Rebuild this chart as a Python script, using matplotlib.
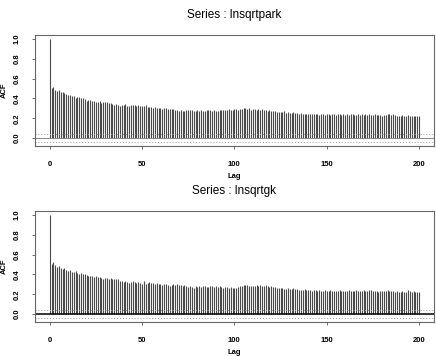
import matplotlib.pyplot as plt
import numpy as np

plt.rcParams['font.family'] = ['Liberation Sans', 'DejaVu Sans']

lags = list(range(0, 201))

# ACF values (lag 0 .. 200)
acf_park = [1.00,
    0.50, 0.51, 0.48, 0.47, 0.48, 0.46, 0.46, 0.45, 0.44, 0.43,
    0.43, 0.42, 0.42, 0.40, 0.41, 0.41, 0.40, 0.40, 0.39, 0.37,
    0.38, 0.38, 0.37, 0.37, 0.36, 0.36, 0.37, 0.35, 0.36, 0.36,
    0.36, 0.35, 0.35, 0.34, 0.33, 0.34, 0.33, 0.32, 0.33, 0.33,
    0.34, 0.32, 0.32, 0.33, 0.33, 0.33, 0.32, 0.33, 0.32, 0.32,
    0.32, 0.33, 0.31, 0.31, 0.31, 0.30, 0.31, 0.30, 0.30, 0.30,
    0.29, 0.30, 0.30, 0.29, 0.29, 0.29, 0.29, 0.28, 0.28, 0.27,
    0.28, 0.27, 0.27, 0.28, 0.28, 0.28, 0.28, 0.27, 0.27, 0.28,
    0.27, 0.28, 0.27, 0.27, 0.28, 0.28, 0.28, 0.27, 0.28, 0.27,
    0.27, 0.28, 0.28, 0.28, 0.28, 0.28, 0.29, 0.28, 0.28, 0.29,
    0.29, 0.28, 0.29, 0.29, 0.30, 0.30, 0.29, 0.30, 0.28, 0.29,
    0.29, 0.28, 0.29, 0.28, 0.29, 0.28, 0.28, 0.27, 0.28, 0.27,
    0.27, 0.27, 0.26, 0.26, 0.26, 0.26, 0.27, 0.25, 0.26, 0.25,
    0.25, 0.26, 0.25, 0.25, 0.24, 0.25, 0.24, 0.24, 0.24, 0.24,
    0.24, 0.24, 0.24, 0.24, 0.24, 0.23, 0.24, 0.24, 0.23, 0.24,
    0.24, 0.23, 0.24, 0.24, 0.23, 0.24, 0.24, 0.23, 0.24, 0.23,
    0.24, 0.23, 0.24, 0.24, 0.23, 0.23, 0.24, 0.23, 0.24, 0.23,
    0.24, 0.23, 0.24, 0.23, 0.23, 0.24, 0.23, 0.23, 0.23, 0.22,
    0.23, 0.23, 0.24, 0.24, 0.23, 0.24, 0.23, 0.22, 0.22, 0.22,
    0.23, 0.22, 0.22, 0.23, 0.22, 0.22, 0.22, 0.22, 0.22, 0.22]

acf_gk = [1.00,
    0.50, 0.52, 0.49, 0.47, 0.48, 0.46, 0.45, 0.46, 0.44, 0.43,
    0.44, 0.42, 0.42, 0.43, 0.41, 0.40, 0.41, 0.40, 0.40, 0.39,
    0.38, 0.38, 0.38, 0.37, 0.38, 0.37, 0.37, 0.36, 0.35, 0.36,
    0.36, 0.35, 0.36, 0.35, 0.35, 0.35, 0.35, 0.33, 0.33, 0.32,
    0.33, 0.32, 0.31, 0.32, 0.33, 0.32, 0.31, 0.32, 0.31, 0.30,
    0.33, 0.30, 0.31, 0.32, 0.31, 0.31, 0.30, 0.31, 0.30, 0.30,
    0.29, 0.30, 0.30, 0.29, 0.28, 0.29, 0.30, 0.29, 0.30, 0.29,
    0.29, 0.28, 0.29, 0.28, 0.27, 0.28, 0.27, 0.26, 0.28, 0.27,
    0.28, 0.27, 0.28, 0.28, 0.27, 0.27, 0.28, 0.28, 0.27, 0.28,
    0.27, 0.28, 0.27, 0.26, 0.27, 0.27, 0.26, 0.27, 0.26, 0.26,
    0.26, 0.27, 0.28, 0.28, 0.29, 0.29, 0.29, 0.28, 0.28, 0.28,
    0.28, 0.29, 0.28, 0.29, 0.28, 0.28, 0.29, 0.28, 0.27, 0.28,
    0.27, 0.27, 0.26, 0.26, 0.26, 0.26, 0.25, 0.25, 0.26, 0.25,
    0.25, 0.26, 0.25, 0.25, 0.24, 0.24, 0.24, 0.25, 0.24, 0.24,
    0.24, 0.23, 0.24, 0.24, 0.23, 0.24, 0.23, 0.23, 0.24, 0.23,
    0.23, 0.24, 0.23, 0.23, 0.23, 0.23, 0.24, 0.23, 0.23, 0.23,
    0.23, 0.24, 0.23, 0.23, 0.23, 0.24, 0.23, 0.23, 0.23, 0.24,
    0.23, 0.23, 0.24, 0.24, 0.23, 0.23, 0.23, 0.22, 0.23, 0.23,
    0.23, 0.23, 0.24, 0.23, 0.23, 0.23, 0.22, 0.23, 0.22, 0.22,
    0.23, 0.22, 0.22, 0.24, 0.23, 0.22, 0.23, 0.22, 0.22, 0.22]

titles = ["Series : lnsqrtpark", "Series : lnsqrtgk"]
conf_limits = (0.037, -0.036)
x_ticks = [0, 50, 100, 150, 200]
y_ticks = [0.0, 0.2, 0.4, 0.6, 0.8, 1.0]

fig = plt.figure(figsize=(4.36, 3.56), dpi=100)
boxes = [[0.080, 0.590, 0.915, 0.312], [0.080, 0.0955, 0.915, 0.312]]
zero_style = [dict(color='#888888', lw=0.7), dict(color='black', lw=1.1)]

for i, (vals, title) in enumerate(zip([acf_park, acf_gk], titles)):
    ax = fig.add_axes(boxes[i])
    # the acf spikes
    ax.vlines(lags, 0, vals, color='#4a4a4a', lw=0.8)
    ax.axhline(0, **zero_style[i])
    for c in conf_limits:
        ax.axhline(c, color='#999999', lw=0.7, ls=(0, (1, 2)))

    ax.set_xlim(-8, 208)
    ax.set_ylim(-0.08, 1.04)
    ax.set_xticks(x_ticks)
    ax.set_xticklabels([str(t) for t in x_ticks], fontsize=5.5, fontweight='bold')
    ax.set_yticks(y_ticks)
    ax.set_yticklabels([f"{t:.1f}" for t in y_ticks], fontsize=5.5,
                       fontweight='bold', rotation=90, va='center')
    ax.tick_params(length=2.5, width=0.6, color='#555555', pad=8)
    for s in ax.spines.values():
        s.set_color('#666666')
        s.set_linewidth(0.8)

    ax.set_xlabel("Lag", fontsize=5.5, fontweight='bold', labelpad=4)
    ax.set_ylabel("ACF", fontsize=5.5, fontweight='bold', labelpad=4)
    ax.set_title(title, fontsize=8.5, pad=12)

fig.savefig("out.png", dpi=100)
